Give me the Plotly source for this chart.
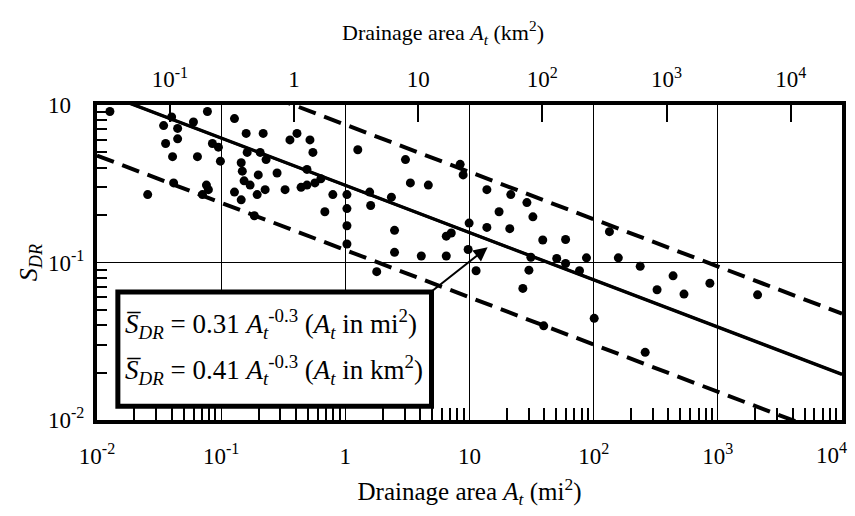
import numpy as np
import plotly.graph_objects as go

# Observed watersheds: drainage area (mi^2) and sediment delivery ratio
area_mi2 = [
    0.0127, 0.0399, 0.0775, 0.0344, 0.0446, 0.0598, 0.0357, 0.0446, 0.0406, 0.0644,
    0.0850, 0.0950, 0.0986, 0.0256, 0.0414, 0.0761, 0.0707, 0.0789, 0.128, 0.159,
    0.218, 0.162, 0.206, 0.230, 0.145, 0.148, 0.153, 0.171, 0.128, 0.145,
    0.185, 0.195, 0.199, 0.226, 0.282, 0.327, 0.358, 0.408, 0.519, 0.548,
    0.491, 0.440, 0.491, 0.569, 0.635, 0.793, 0.684, 1.03, 1.03, 1.03,
    1.03, 1.26, 1.57, 1.60, 2.35, 2.49, 2.49, 4.09, 1.79, 3.05,
    3.34, 4.66, 6.50, 7.13, 6.50, 8.41, 8.89, 9.93, 9.75, 13.8,
    21.5, 29.0, 17.3, 32.4, 13.8, 21.1, 38.9, 59.4, 11.3, 31.2,
    50.4, 59.4, 76.9, 87.5, 30.1, 26.9, 134, 158, 237, 436,
    863, 324, 534, 2090, 101, 39.6, 260,
]
sdr = [
    0.91, 0.84, 0.91, 0.74, 0.71, 0.78, 0.57, 0.61, 0.47, 0.47,
    0.57, 0.54, 0.44, 0.27, 0.32, 0.31, 0.27, 0.29, 0.82, 0.66,
    0.66, 0.50, 0.50, 0.45, 0.43, 0.38, 0.33, 0.31, 0.28, 0.25,
    0.198, 0.27, 0.36, 0.29, 0.37, 0.29, 0.60, 0.66, 0.60, 0.50,
    0.39, 0.30, 0.31, 0.32, 0.34, 0.27, 0.21, 0.27, 0.22, 0.171,
    0.131, 0.52, 0.28, 0.23, 0.26, 0.160, 0.116, 0.110, 0.0875, 0.45,
    0.32, 0.31, 0.147, 0.154, 0.110, 0.42, 0.36, 0.178, 0.121, 0.29,
    0.27, 0.24, 0.21, 0.195, 0.167, 0.164, 0.139, 0.140, 0.0887, 0.108,
    0.106, 0.0986, 0.0886, 0.107, 0.0894, 0.0685, 0.157, 0.107, 0.0945, 0.0823,
    0.0738, 0.0671, 0.0630, 0.0623, 0.0442, 0.0396, 0.0269,
]

# Power-law fit S = c * A^b and its envelope (A in mi^2 unless noted)
exponent = -0.3
coef_mean_mi2 = 0.31
coef_mean_km2 = 0.41
coef_upper = 0.75
coef_lower = 0.12
MI2_TO_KM2 = 2.59

x_range_mi2 = [1e-2, 1e4]
y_range = [1e-2, 1.0]

bottom_ticks = [1e-2, 1e-1, 1, 10, 1e2, 1e3]
bottom_text = ["10<sup>-2</sup>", "10<sup>-1</sup>", "1", "10",
               "10<sup>2</sup>", "10<sup>3</sup>"]
bottom_last_text = "10<sup>4</sup>"
top_ticks = [1e-1, 1, 10, 1e2, 1e3, 1e4]
top_text = ["10<sup>-1</sup>", "1", "10", "10<sup>2</sup>", "10<sup>3</sup>", "10<sup>4</sup>"]
left_ticks = [1e-2, 1e-1, 1]
ghost = '<sup><span style="color:rgba(0,0,0,0)">-1</span></sup>'
left_text = ["10<sup>-2</sup>", "10<sup>-1</sup>", "10" + ghost]

title_top = "Drainage area <i>A</i><sub><i>t</i></sub> (km<sup>2</sup>)"
title_bottom = "Drainage area <i>A</i><sub><i>t</i></sub> (mi<sup>2</sup>)"
title_left = "<i>S</i><sub><i>DR</i></sub>"

FONT = "Liberation Serif"
TICK_SIZE = 23

a_mi2 = np.logspace(np.log10(x_range_mi2[0]), np.log10(x_range_mi2[1]), 300)
a_km2 = a_mi2 * MI2_TO_KM2

fig = go.Figure()

fig.add_trace(go.Scatter(
    x=a_mi2, y=coef_upper * a_mi2 ** exponent, mode="lines",
    line=dict(color="black", width=4, dash="18px,9px"), showlegend=False))
fig.add_trace(go.Scatter(
    x=a_mi2, y=coef_lower * a_mi2 ** exponent, mode="lines",
    line=dict(color="black", width=4, dash="18px,9px"), showlegend=False))
fig.add_trace(go.Scatter(
    x=a_mi2, y=coef_mean_mi2 * a_mi2 ** exponent, mode="lines",
    line=dict(color="black", width=3), showlegend=False))
# same fit expressed in km^2, drawn against the top axis
fig.add_trace(go.Scatter(
    x=a_km2, y=coef_mean_km2 * a_km2 ** exponent, mode="lines",
    line=dict(color="black", width=3), xaxis="x2", showlegend=False))
fig.add_trace(go.Scatter(
    x=area_mi2, y=sdr, mode="markers",
    marker=dict(color="black", size=9), showlegend=False))

minor_x = [k * 10.0 ** e for e in range(-2, 4) for k in range(2, 10)]
minor_y = [k * 10.0 ** e for e in range(-2, 0) for k in range(2, 10)]

fig.update_layout(
    width=855, height=516,
    margin=dict(l=97, r=9, t=105, b=96),
    paper_bgcolor="white", plot_bgcolor="white",
    font=dict(family=FONT, color="black", size=TICK_SIZE),
    xaxis=dict(
        type="log", range=[np.log10(x_range_mi2[0]), np.log10(x_range_mi2[1])],
        tickmode="array", tickvals=bottom_ticks, ticktext=bottom_text,
        ticks="", ticklabelstandoff=12,
        showgrid=True, gridcolor="black", gridwidth=1,
        showline=True, linecolor="black", linewidth=4, mirror=True,
        zeroline=False,
        minor=dict(tickmode="array", tickvals=minor_x, ticks="inside",
                   ticklen=12, tickwidth=1.5, tickcolor="black", showgrid=False),
        title=dict(text=title_bottom, font=dict(size=25), standoff=16),
    ),
    xaxis2=dict(
        type="log", overlaying="x", side="top", anchor="y",
        range=[np.log10(x_range_mi2[0] * MI2_TO_KM2), np.log10(x_range_mi2[1] * MI2_TO_KM2)],
        tickmode="array", tickvals=top_ticks, ticktext=top_text,
        ticks="inside", ticklen=17, tickwidth=1.5, tickcolor="black",
        ticklabelstandoff=12,
        showgrid=False, showline=False, zeroline=False,
    ),
    yaxis=dict(
        type="log", range=[np.log10(y_range[0]), np.log10(y_range[1])],
        tickmode="array", tickvals=left_ticks, ticktext=left_text,
        ticks="", ticklabelstandoff=4,
        showgrid=True, gridcolor="black", gridwidth=1,
        showline=True, linecolor="black", linewidth=4, mirror=True,
        zeroline=False,
        minor=dict(tickmode="array", tickvals=minor_y, ticks="inside",
                   ticklen=10, tickwidth=1.5, tickcolor="black", showgrid=False),
        title=dict(text=title_left, font=dict(size=26), standoff=4),
    ),
)

# top axis title, set slightly left of the plot centre
fig.add_annotation(
    text=title_top, xref="paper", yref="paper", x=0.465, y=1.23,
    xanchor="center", yanchor="middle", showarrow=False,
    font=dict(family=FONT, size=22, color="black"))

# last bottom tick label sits flush against the right edge
fig.add_annotation(
    text=bottom_last_text, xref="paper", yref="paper", x=1.0, y=-0.055,
    xanchor="right", yanchor="top", showarrow=False, xshift=7,
    font=dict(family=FONT, size=TICK_SIZE, color="black"))

# Equation box with an arrow pointing to the fitted line
fig.add_shape(type="rect", xref="paper", yref="paper",
              x0=0.028, x1=0.449, y0=0.044, y1=0.406,
              line=dict(color="black", width=5), fillcolor="white", layer="above")

eq_style = dict(xref="paper", yref="paper", x=0.035, xanchor="left",
                yanchor="middle", showarrow=False,
                font=dict(family=FONT, size=27, color="black"))
fig.add_annotation(
    text="<i>S\u0305</i><sub><i>DR</i></sub> = 0.31 <i>A</i><sub><i>t</i></sub><sup>-0.3</sup> "
         "(<i>A</i><sub><i>t</i></sub> in mi<sup>2</sup>)",
    y=0.305, **eq_style)
fig.add_annotation(
    text="<i>S\u0305</i><sub><i>DR</i></sub> = 0.41 <i>A</i><sub><i>t</i></sub><sup>-0.3</sup> "
         "(<i>A</i><sub><i>t</i></sub> in km<sup>2</sup>)",
    y=0.160, **eq_style)

fig.add_annotation(
    x=np.log10(14.0), y=np.log10(0.125), xref="x", yref="y",
    text="", showarrow=True, arrowhead=2, arrowsize=1.4, arrowwidth=2,
    arrowcolor="black", ax=-57, ay=45)

fig.write_html("out.html")
